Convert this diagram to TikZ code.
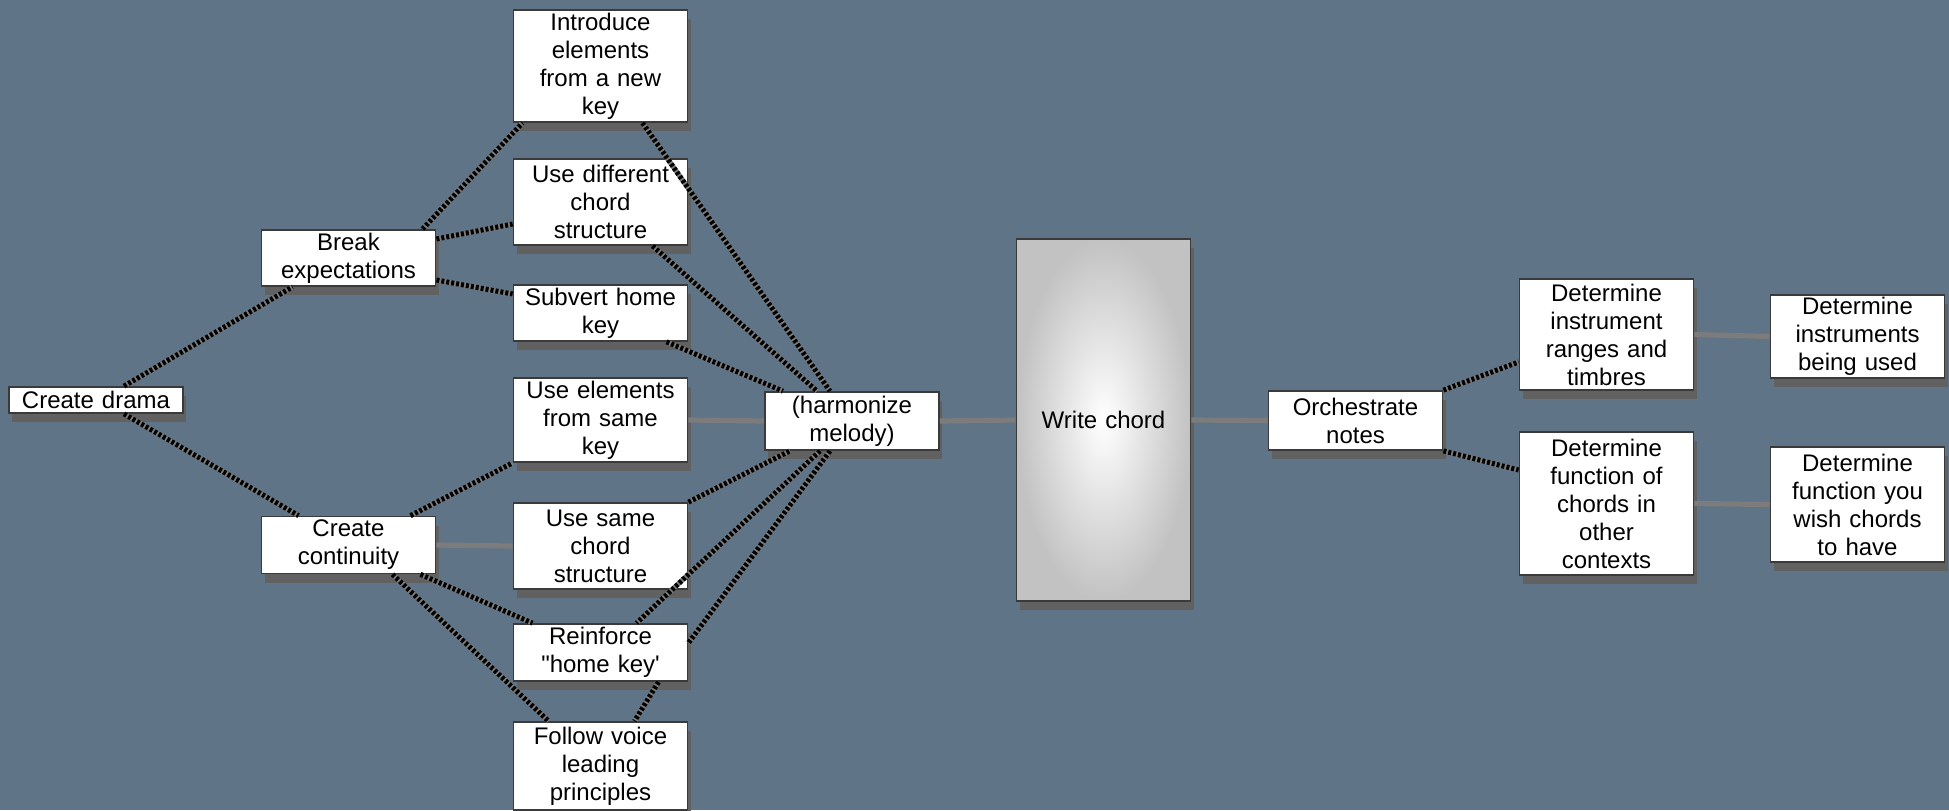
\documentclass[tikz,border=0pt]{standalone}
\usepackage{fontspec}
\setmainfont{Liberation Sans}
\usetikzlibrary{shadows}

\definecolor{slate}{HTML}{5F7486}
\definecolor{linkgray}{HTML}{7C7C7C}
\definecolor{boxedge}{HTML}{3A3A3A}

\tikzset{
  box/.style={draw=boxedge, line width=0.9pt, fill=white, text width=81pt,
    inner xsep=3pt, inner ysep=1pt, align=center,
    font=\fontsize{12}{14}\selectfont,
    drop shadow={shadow xshift=1.5pt, shadow yshift=-4.5pt, fill=black!62, opacity=1}},
  chordbox/.style={shade, inner color=white, outer color=black!24},
  link/.style={line width=2.5pt, draw=linkgray,
    postaction={draw=black, line width=2.5pt, dash pattern=on 1.5pt off 1pt}},
  flat/.style={line width=2.6pt, draw=linkgray},
}

\begin{document}
\begin{tikzpicture}[x=0.5pt, y=-0.5pt]
  \fill[slate] (0,0) rectangle (1949,810);
  \useasboundingbox (0,0) rectangle (1949,810);

  \node[box, minimum height=13pt] (drama) at (96,400) {Create drama};
  \node[box, minimum height=28pt] (brk) at (348.5,258) {Break\\expectations};
  \node[box, minimum height=28.5pt] (cont) at (348.5,545) {Create\\continuity};

  % left column
  \node[box, minimum height=56pt] (intro) at (600.5,66) {Introduce\\elements\\from a new\\key};
  \node[box, minimum height=43pt] (diff) at (600.5,202) {Use different\\chord\\structure};
  \node[box, minimum height=28pt] (subv) at (600.5,313) {Subvert home\\key};
  \node[box, minimum height=42pt] (samel) at (600.5,420) {Use elements\\from same\\key};
  \node[box, minimum height=43pt] (samech) at (600.5,546) {Use same\\chord\\structure};
  \node[box, minimum height=28.5pt] (reinf) at (600.5,652.5) {Reinforce\\\textquotedbl home key\textquotesingle};
  \node[box, minimum height=44pt] (voice) at (600.5,766) {Follow voice\\leading\\principles};

  \node[box, minimum height=29pt] (harm) at (852,421) {(harmonize\\melody)};
  \node[box, chordbox, minimum height=181pt] (chord) at (1103.5,420) {Write chord};
  \node[box, minimum height=29.5pt] (orch) at (1355.5,420.5) {Orchestrate\\notes};

  \node[box, minimum height=55.5pt] (range) at (1606.5,334.5) {Determine\\instrument\\ranges and\\timbres};
  \node[box, minimum height=71.5pt] (func) at (1606.5,503.5) {Determine\\function of\\chords in\\other\\contexts};
  \node[box, minimum height=41.5pt] (used) at (1857.5,336.5) {Determine\\instruments\\being used};
  \node[box, minimum height=57.5pt] (wish) at (1857.5,504.5) {Determine\\function you\\wish chords\\to have};

  \draw[link] ([xshift=14pt]drama.north) -- ([xshift=-28pt]brk.south);
  \draw[link] ([xshift=14pt]drama.south) -- ([xshift=-25pt]cont.north);
  \draw[link] ([xshift=37pt]brk.north) -- ([xshift=-39pt]intro.south);
  \draw[link] ([yshift=9.5pt]brk.east) -- ([yshift=-11pt]diff.west);
  \draw[link] ([yshift=-11pt]brk.east) -- ([yshift=9.5pt]subv.west);
  \draw[link] ([xshift=21pt]intro.south) -- ([xshift=-11pt]harm.north);
  \draw[link] ([xshift=26pt]diff.south) -- ([xshift=-17.5pt]harm.north);
  \draw[link] ([xshift=33pt]subv.south) -- ([xshift=-34.5pt]harm.north);
  \draw[link] ([xshift=31pt]cont.north) -- (samel.south west);
  \draw[link] ([xshift=36pt]cont.south) -- ([xshift=-34pt]reinf.north);
  \draw[link] ([xshift=22pt]cont.south) -- ([xshift=-26pt]voice.north);
  \draw[link] (samech.north east) -- ([xshift=-31pt]harm.south);
  \draw[link] ([xshift=-16pt]harm.south) -- ([xshift=18pt]reinf.north);
  \draw[link] ([xshift=-11pt]harm.south) -- ([yshift=4.75pt]reinf.east);
  \draw[link] ([xshift=29pt]reinf.south) -- ([xshift=17pt]voice.north);
  \draw[link] (orch.north east) -- ([yshift=-13.75pt]range.west);
  \draw[link] (orch.south east) -- ([yshift=16.75pt]func.west);

  % plain grey links
  \draw[flat] (samel.east) -- (harm.west);
  \draw[flat] (cont.east) -- (samech.west);
  \draw[flat] (harm.east) -- (chord.west);
  \draw[flat] (chord.east) -- (orch.west);
  \draw[flat] (range.east) -- (used.west);
  \draw[flat] (func.east) -- (wish.west);
\end{tikzpicture}
\end{document}
